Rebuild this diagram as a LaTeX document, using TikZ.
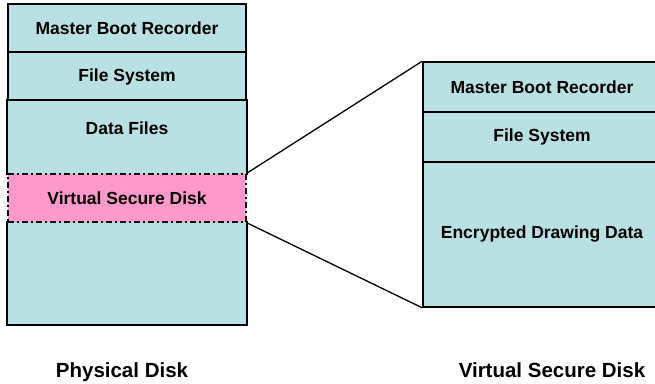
\documentclass[tikz,border=0pt]{standalone}
\usepackage{fontspec}
\setmainfont{Liberation Sans}
\usepackage{tikz}
\definecolor{disk_teal}{RGB}{185,224,227}
\definecolor{secure_pink}{RGB}{255,153,204}
\newcommand{\boxfont}{\bfseries\fontsize{17.5}{20}\selectfont}
\newcommand{\labelfont}{\bfseries\fontsize{20.5}{24}\selectfont}

\begin{document}
\begin{tikzpicture}[x=1pt,y=-1pt,line width=1.6pt]
    \tikzstyle{layer}=[rectangle, inner sep=0pt, minimum width=238pt, fill=disk_teal, text=black, font=\boxfont]
    \tikzstyle{part}=[style=layer, draw=black]
    \tikzstyle{secure}=[style=layer, fill=secure_pink, draw=black, dash pattern=on 6pt off 3pt on 2pt off 3pt]
    \tikzstyle{caption}=[anchor=base, text=black, font=\labelfont]

    \clip (0,0) rectangle (655,383);

    % physical disk
    \node[part, minimum height=48pt]  (mbr1)  at (127,28)    {Master Boot Recorder};
    \node[part, minimum height=49pt]  (fs1)   at (127,76.5)  {File System};
    \node[layer, minimum height=73pt] (df1)   at (127,137.5) {};
    \node[layer, minimum height=102pt](free1) at (127,273)   {};
    \node[secure, minimum height=48pt](vsd)   at (127,198)   {Virtual Secure Disk};
    \node[font=\boxfont]              (dft)   at (127,128)   {Data Files};

    % virtual secure disk
    \node[part, minimum height=50pt]  (mbr2)  at (542,87)    {Master Boot Recorder};
    \node[part, minimum height=50pt]  (fs2)   at (542,137)   {File System};
    \node[part, minimum height=145pt] (enc2)  at (542,234.5) {Encrypted Drawing Data};

    \node[caption] (pd)  at (122,377) {Physical Disk};
    \node[caption] (vsl) at (552,377) {Virtual Secure Disk};

    \draw (df1.south west) |- (df1.north east) -- (df1.south east);
    \draw (free1.north west) |- (free1.south east) -- (free1.north east);

    \path[line width=1.3pt]
     (vsd.north east) edge (mbr2.north west)
     (vsd.south east) edge (enc2.south west)
     ;
\end{tikzpicture}
\end{document}
